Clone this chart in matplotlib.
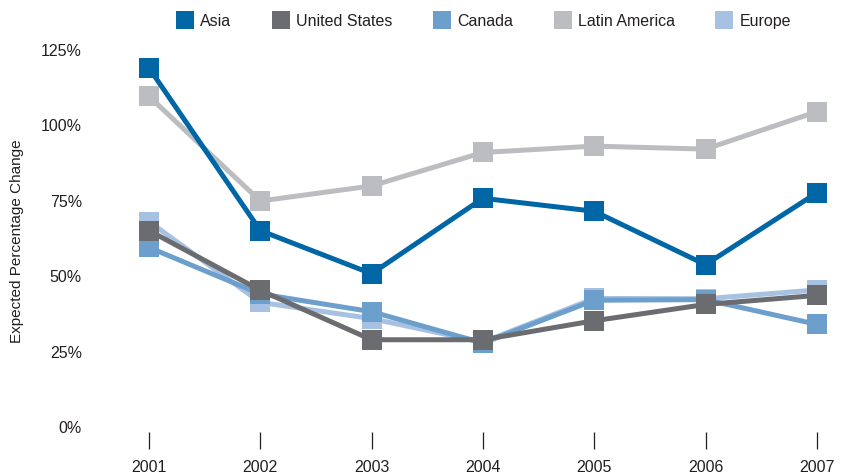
import matplotlib.pyplot as plt
from matplotlib.lines import Line2D

plt.rcParams['font.family'] = ['Liberation Sans Narrow', 'Liberation Sans', 'DejaVu Sans']

years = [2001, 2002, 2003, 2004, 2005, 2006, 2007]
asia = [118.7, 64.8, 50.5, 75.5, 71.2, 53.5, 77.3]
united_states = [64.8, 45.0, 28.6, 28.6, 34.9, 40.3, 43.3]
canada = [59.2, 43.8, 37.9, 27.5, 41.7, 41.9, 33.7]
latin_america = [109.3, 74.6, 79.6, 90.7, 92.8, 91.8, 104.2]
europe = [67.8, 41.0, 35.6, 27.8, 42.3, 42.2, 45.1]

series = [
    ('Asia', asia, '#0066a6'),
    ('United States', united_states, '#6b6c70'),
    ('Canada', canada, '#6d9fcd'),
    ('Latin America', latin_america, '#bcbdc0'),
    ('Europe', europe, '#a6c1e1'),
]
draw_order = ['Europe', 'Latin America', 'Canada', 'United States', 'Asia']

fig = plt.figure(figsize=(8.48, 4.77), dpi=100)
# axes in pixel terms: left 100, right 840, bottom 427 (0%), top 40
W, H = 848, 477
ax = fig.add_axes([100/W, (H-427)/H, 740/W, 387/H])

lookup = {name: (vals, col) for name, vals, col in series}
for z, name in enumerate(draw_order):
    vals, col = lookup[name]
    ax.plot(years, vals, color=col, lw=3.6, marker='s', markersize=14.5,
            markeredgewidth=0, solid_joinstyle='miter', zorder=2+z)

px_per_year = 111.3
ax.set_xlim(2001 - 49/px_per_year, 2001 + 691/px_per_year)
ax.set_ylim(0, 125 + 10/3.016)

ax.set_yticks([0, 25, 50, 75, 100, 125])
ax.set_yticklabels([f'{v}%' for v in [0, 25, 50, 75, 100, 125]])
ax.set_xticks(years)
ax.set_xticklabels([str(y) for y in years])

for s in ['top', 'right', 'left']:
    ax.spines[s].set_visible(False)
ax.spines['bottom'].set_position(('outward', 4))
ax.spines['bottom'].set_visible(False)
ax.tick_params(axis='y', length=0, pad=13, labelsize=11.5, colors='#231f20')
ax.tick_params(axis='x', length=12, width=0.9, pad=8, labelsize=11.5,
               colors='#231f20', direction='out')

ax.set_ylabel('Expected Percentage Change', fontsize=11, color='#231f20')
ax.yaxis.set_label_coords(-76/740, 0.48)

handles = [Line2D([], [], color=col, marker='s', linestyle='none', markersize=13,
                  markeredgewidth=0) for _, _, col in series]
fig.legend(handles, [n for n, _, _ in series], loc='upper center',
           bbox_to_anchor=(484/W, 1.0), ncol=5, frameon=False, fontsize=11.5,
           handletextpad=0.45, columnspacing=2.6, handlelength=1.0, labelcolor='#231f20')

fig.savefig('out.png', dpi=100)
